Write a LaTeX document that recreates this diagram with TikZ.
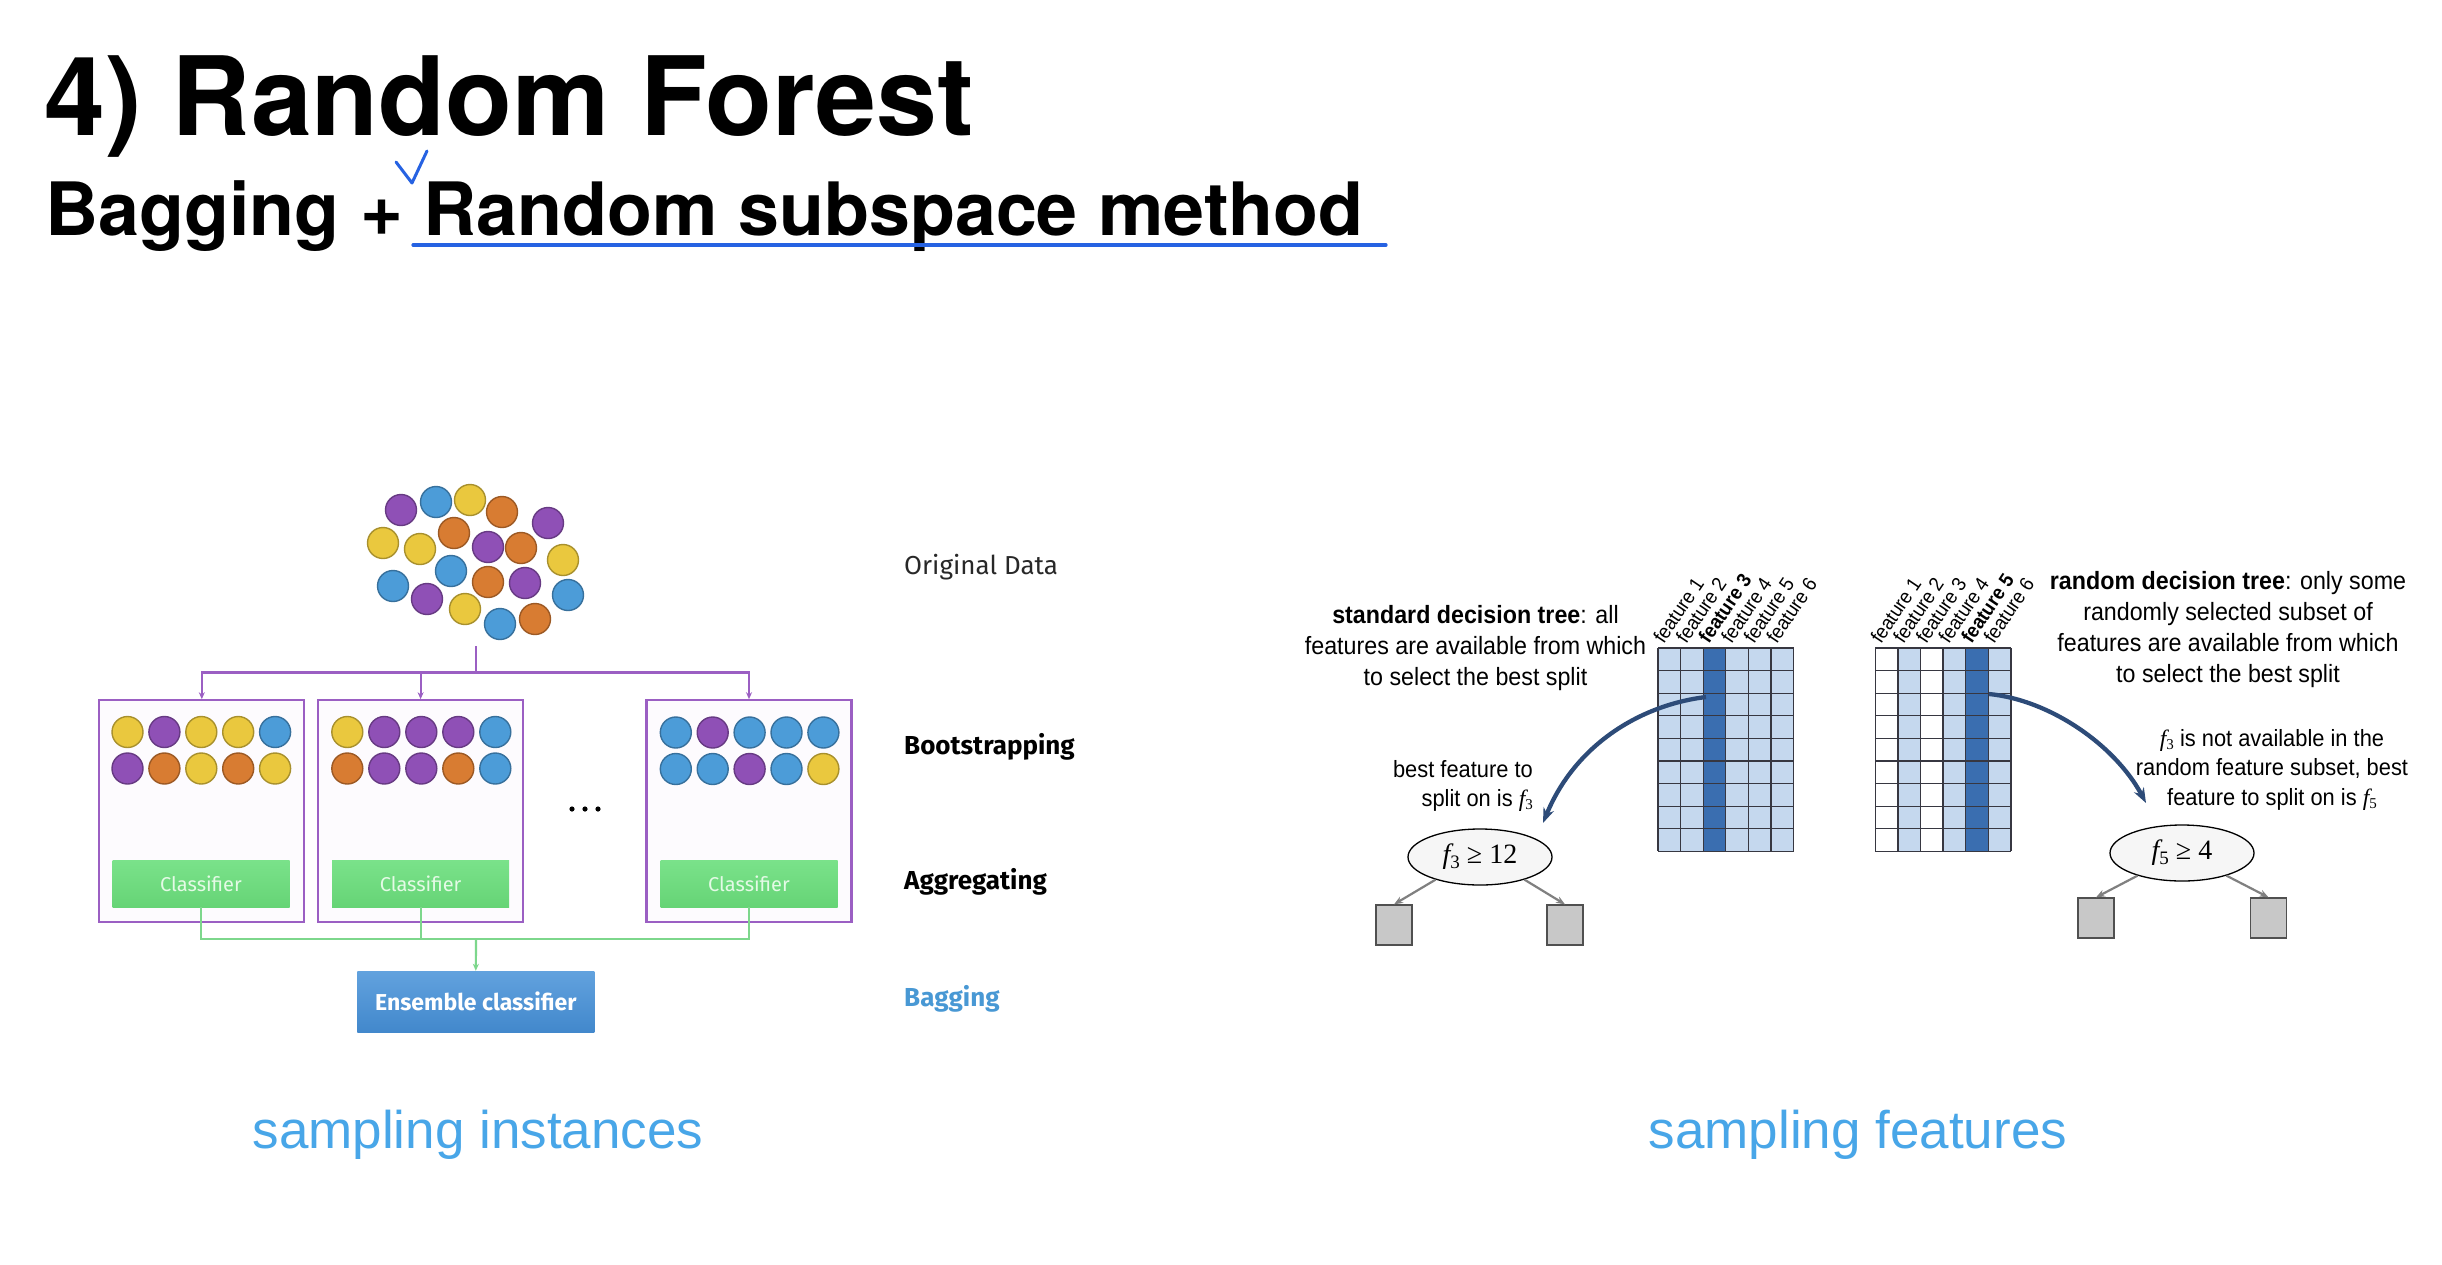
\documentclass[tikz,border=0pt]{standalone}
\usepackage{fontspec}
\setmainfont{Liberation Sans}
\newfontfamily\heros{TeX Gyre Heros}
\newfontfamily\fira{Fira Sans}
\newfontfamily\arialc[FakeStretch=0.93]{Liberation Sans}
\newfontfamily\timesf{Liberation Serif}
\usetikzlibrary{arrows.meta,shapes.geometric}
\definecolor{cP}{RGB}{143,80,182}
\definecolor{cB}{RGB}{76,156,216}
\definecolor{cY}{RGB}{234,200,62}
\definecolor{cO}{RGB}{216,124,50}
\definecolor{purp}{RGB}{155,95,195}
\definecolor{grn}{RGB}{112,218,128}
\definecolor{grnline}{RGB}{125,215,140}
\definecolor{ensb}{RGB}{74,146,212}
\definecolor{lblue}{RGB}{197,216,238}
\definecolor{dblue}{RGB}{58,110,176}
\definecolor{navy}{RGB}{45,75,120}
\definecolor{penblue}{RGB}{38,98,226}
\definecolor{skyblue}{RGB}{72,166,232}
\definecolor{baggingc}{RGB}{72,152,212}
\definecolor{gridc}{RGB}{55,55,65}
\newcommand\fsz[2]{\fontsize{#1}{#2}\selectfont}
\begin{document}
\begin{tikzpicture}[x=1pt,y=-1pt,
  dot/.style={circle,minimum size=31pt,inner sep=0pt,line width=1.4pt},
  bag/.style={draw=purp,line width=2.2pt,fill={rgb,255:red,253;green,251;blue,254},minimum width=205pt,minimum height=222pt,inner sep=0pt},
  clf/.style={top color={rgb,255:red,122;green,226;blue,138},bottom color={rgb,255:red,102;green,212;blue,118},minimum width=177pt,minimum height=47pt,inner sep=0pt,text={rgb,255:red,228;green,250;blue,230},font=\fira\fsz{20}{20}},
  pline/.style={draw=purp,line width=2.2pt},
  parr/.style={pline,-{Stealth[length=7pt,width=6pt]}},
  gline/.style={draw=grnline,line width=2.2pt},
  garrow/.style={gline,-{Stealth[length=7pt,width=6pt]}},
  sidelab/.style={anchor=base west,inner sep=0pt,font=\fira\fsz{26}{26}},
  gl/.style={draw=gridc,line width=1.3pt},
  flab/.style={anchor=south west,rotate=56,inner sep=0pt,font=\arialc\fsz{20}{20}},
  ann/.style={inner sep=0pt,font=\arialc\fsz{25}{31},align=center},
  annb/.style={inner sep=0pt,font=\arialc\fsz{23.5}{29.5}},
  bigarr/.style={draw=navy,line width=4.3pt,-{Stealth[length=15pt,width=11pt]}},
  ell/.style={ellipse,draw=black,line width=1.3pt,fill={rgb,255:red,246;green,246;blue,246},minimum width=144pt,minimum height=56pt,inner sep=0pt,font=\timesf\fsz{28}{28}},
  leaf/.style={draw={rgb,255:red,80;green,80;blue,80},line width=1.3pt,fill={rgb,255:red,200;green,200;blue,200},minimum width=36pt,minimum height=40pt,inner sep=0pt},
  garr/.style={draw={rgb,255:red,128;green,128;blue,128},line width=2.2pt,-{Stealth[length=9pt,width=7pt]}},
  bottomlab/.style={anchor=base,inner sep=0pt,text=skyblue,font=\fsz{53}{53}}
]
\useasboundingbox (0,0) rectangle (2442,1264);
\fill[white] (0,0) rectangle (2442,1264);

% ---------- titles ----------
\node[anchor=base west,inner sep=0pt,font=\heros\bfseries\fsz{109.5}{109.5}] (title) at (44,135) {4) Random Forest};
\node[anchor=base west,inner sep=0pt,font=\heros\bfseries\fsz{73.6}{73.6}] (subtitle) at (45,235) {Bagging + Random subspace method};
\coordinate (ul1) at (413,245);
\coordinate (ul2) at (1386,245);
\draw[penblue,line width=3.2pt,line cap=round] (ul1) -- (ul2);
\coordinate (ck1) at (396,162);
\coordinate (ck2) at (412,183);
\coordinate (ck3) at (427,151);
\draw[penblue,line width=3pt,line cap=round,line join=round] (ck1) -- (ck2) -- (ck3);

% ---------- original data ----------
\foreach \cl/\x/\y [count=\i] in {P/401/510,B/436/502,Y/470/500,O/502/512,P/548/523,Y/383/543,Y/420/549,O/454/533,P/488/547,O/521/548,Y/563/560,B/451/571,O/488/582,P/525/583,B/393/586,P/427/599,B/568/595,Y/465/609,B/500/624,O/535/619}
  \node[dot,fill=c\cl,draw=c\cl!72!black] (orig\i) at (\x,\y) {};

% ---------- bootstrap boxes ----------
\node[bag] (b1) at (201.8,811.3) {};
\node[bag] (b2) at (420.6,811.3) {};
\node[bag] (b3) at (749,811.3) {};
\foreach \cl [count=\i] in {Y,P,Y,Y,B}
  \node[dot,fill=c\cl,draw=c\cl!72!black] (p1a\i) at ({127.5+36.9*(\i-1)},732) {};
\foreach \cl [count=\i] in {P,O,Y,O,Y}
  \node[dot,fill=c\cl,draw=c\cl!72!black] (p1b\i) at ({127.5+36.9*(\i-1)},768.5) {};
\foreach \cl [count=\i] in {Y,P,P,P,B}
  \node[dot,fill=c\cl,draw=c\cl!72!black] (p2a\i) at ({347.3+37*(\i-1)},732) {};
\foreach \cl [count=\i] in {O,P,P,O,B}
  \node[dot,fill=c\cl,draw=c\cl!72!black] (p2b\i) at ({347.3+37*(\i-1)},768.5) {};
\foreach \cl [count=\i] in {B,P,B,B,B}
  \node[dot,fill=c\cl,draw=c\cl!72!black] (p3a\i) at ({675.8+36.9*(\i-1)},732.5) {};
\foreach \cl [count=\i] in {B,B,P,B,Y}
  \node[dot,fill=c\cl,draw=c\cl!72!black] (p3b\i) at ({675.8+36.9*(\i-1)},769) {};

\node[clf] (c1) at (201,883.6) {Classifier};
\node[clf] (c2) at (420.6,883.6) {Classifier};
\node[clf] (c3) at (749,883.6) {Classifier};

\node[inner sep=0pt] (dots) at (585,809) {\tikz[x=1pt,y=1pt]{\fill (0,0) circle (2.6) (13,0) circle (2.6) (26,0) circle (2.6);}};

% purple connectors
\coordinate (src) at (476,646);
\coordinate (fork) at (476,672.5);
\draw[pline] (src) -- (fork);
\draw[parr] (fork) -| (b1.north);
\draw[parr] (fork) -| (b2.north);
\draw[parr] (fork) -| (b3.north);

% green connectors
\coordinate (join) at (476,939);
\node[top color={rgb,255:red,98;green,162;blue,222},bottom color={rgb,255:red,66;green,136;blue,204},minimum width=237pt,minimum height=61pt,inner sep=0pt,text=white,font=\fira\bfseries\fsz{23}{23}] (ens) at (475.8,1001.5) {Ensemble classifier};
\draw[gline] (c1.south) |- (join);
\draw[gline] (c2.south) |- (join);
\draw[gline] (c3.south) |- (join);
\draw[garrow] (join) -- (ens.north);

% side labels
\node[sidelab,text={rgb,255:red,40;green,40;blue,40}] (lorig) at (904,574.5) {Original Data};
\node[sidelab,font=\fira\bfseries\fsz{26}{26}] (lboot) at (904,754.5) {Bootstrapping};
\node[sidelab,font=\fira\bfseries\fsz{26}{26}] (lagg) at (904,889) {Aggregating};
\node[sidelab,font=\fira\bfseries\fsz{26}{26},text=baggingc] (lbag) at (904,1006.5) {Bagging};

% ---------- standard decision tree ----------
\foreach \k in {0,...,5}{
  \ifnum\k=2 \fill[dblue] ({1658+22.6*\k},648) rectangle ++(22.6,203.4);
  \else \fill[lblue] ({1658+22.6*\k},648) rectangle ++(22.6,203.4); \fi
}
\foreach \k in {0,...,6} \draw[gl] ({1658+22.6*\k},648) -- ({1658+22.6*\k},851.4);
\foreach \k in {0,...,9} \draw[gl] (1658,{648+22.6*\k}) -- (1793.6,{648+22.6*\k});
\foreach \k in {1,...,6}
  \node[flab] (fa\k) at ({1658+22.6*(\k-1)+6},645) {\ifnum\k=3 \bfseries\fi feature \k};

\node[ann,anchor=north] (annL) at (1475.5,605) {\textbf{standard decision tree}: all\\features are available from which\\to select the best split};
\node[annb,anchor=north east,align=right] (annL2) at (1533,760) {best feature to\\split on is {\timesf\itshape f}\raisebox{-3pt}{\timesf\fsz{15}{15}3}};

\node[ell] (e1) at (1480,857) {{\itshape f}\raisebox{-5pt}{\fsz{19}{19}3} ≥ 12};
\node[leaf] (l1) at (1394,925) {};
\node[leaf] (l2) at (1565,925) {};
\draw[garr] (e1.207) -- (l1.north);
\draw[garr] (e1.-27) -- (l2.north);

\coordinate (g1s) at (1706,697);
\coordinate (a1e) at (1543,823);
\draw[bigarr] (g1s) .. controls (1640,705) and (1575,745) .. (a1e);

% ---------- random decision tree ----------
\foreach \k in {0,...,5}{
  \ifnum\k=4 \fill[dblue] ({1875.3+22.6*\k},648) rectangle ++(22.6,203.4);
  \else\ifodd\k \fill[lblue] ({1875.3+22.6*\k},648) rectangle ++(22.6,203.4);
  \else \fill[white] ({1875.3+22.6*\k},648) rectangle ++(22.6,203.4); \fi\fi
}
\foreach \k in {0,...,6} \draw[gl] ({1875.3+22.6*\k},648) -- ({1875.3+22.6*\k},851.4);
\foreach \k in {0,...,9} \draw[gl] (1875.3,{648+22.6*\k}) -- (2010.9,{648+22.6*\k});
\foreach \k in {1,...,6}
  \node[flab] (fb\k) at ({1875.3+22.6*(\k-1)+6},645) {\ifnum\k=5 \bfseries\fi feature \k};

\node[ann,anchor=north] (annR) at (2228,571) {\textbf{random decision tree}: only some\\randomly selected subset of\\features are available from which\\to select the best split};
\node[annb,anchor=north,align=center] (annR2) at (2272,729) {{\timesf\itshape f}\raisebox{-3pt}{\timesf\fsz{15}{15}3} is not available in the\\random feature subset, best\\feature to split on is {\timesf\itshape f}\raisebox{-3pt}{\timesf\fsz{15}{15}5}};

\node[ell] (e2) at (2182,853) {{\itshape f}\raisebox{-5pt}{\fsz{19}{19}5} ≥ 4};
\node[leaf] (l3) at (2096,918) {};
\node[leaf] (l4) at (2268.5,918) {};
\draw[garr] (e2.207) -- (l3.north);
\draw[garr] (e2.-27) -- (l4.north);

\coordinate (g2s) at (1989,694);
\coordinate (a2e) at (2146,803);
\draw[bigarr] (g2s) .. controls (2050,700) and (2115,745) .. (a2e);

% ---------- bottom labels ----------
\node[bottomlab] (si) at (478,1148) {sampling instances};
\node[bottomlab] (sf) at (1858,1148) {sampling features};
\end{tikzpicture}
\end{document}
